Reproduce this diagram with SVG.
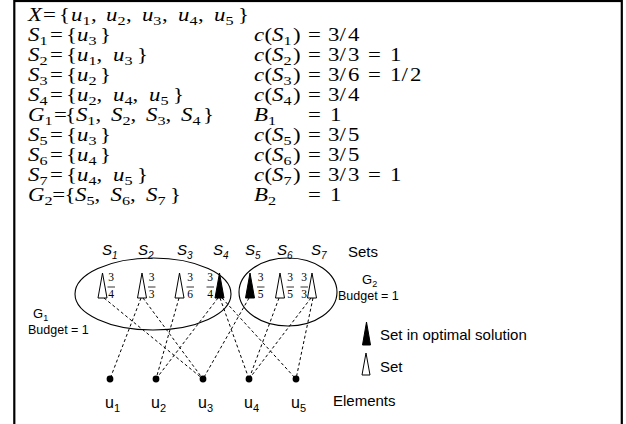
<svg xmlns="http://www.w3.org/2000/svg" width="626" height="424" viewBox="0 0 626 424">
<defs>
<style>
.m{font-family:"Liberation Serif","Times New Roman",serif;font-size:19px;fill:#000}
.i{font-style:italic}
.sb{font-size:13.5px}
.fr{font-family:"Liberation Serif","Times New Roman",serif;font-size:11.5px;fill:#000;text-anchor:middle}
.h{font-family:"Liberation Sans",Arial,sans-serif;fill:#000}
.conn line{stroke:#000;stroke-width:1;stroke-dasharray:3,2.5;fill:none}
.open{fill:#fff;stroke:#000;stroke-width:1}
.full{fill:#000;stroke:#000;stroke-width:1}
.grp{fill:none;stroke:#000;stroke-width:1.1}
.bar{stroke:#000;stroke-width:0.8}
</style>
</defs>
<rect x="0" y="0" width="626" height="424" fill="#fff"/>
<rect x="14.3" y="1" width="607.5" height="440" fill="none" stroke="#000" stroke-width="2.2"/>

<g id="formulas" transform="scale(1.2,1)">
<text class="m" y="21"><tspan x="23.33" class="i">X</tspan><tspan x="35.83">=</tspan><tspan x="49.17">{</tspan><tspan x="59.17" class="i">u</tspan><tspan class="sb" dy="4">1</tspan><tspan dx="0.5" dy="-4">,</tspan><tspan x="88.33" class="i">u</tspan><tspan class="sb" dy="4">2</tspan><tspan dx="0.5" dy="-4">,</tspan><tspan x="118.33" class="i">u</tspan><tspan class="sb" dy="4">3</tspan><tspan dx="0.5" dy="-4">,</tspan><tspan x="148.33" class="i">u</tspan><tspan class="sb" dy="4">4</tspan><tspan dx="0.5" dy="-4">,</tspan><tspan x="178.33" class="i">u</tspan><tspan class="sb" dy="4">5</tspan><tspan x="198.33" dy="-4">}</tspan></text>

<text class="m" y="41"><tspan x="23.33" class="i">S</tspan><tspan class="sb" dy="4">1</tspan><tspan x="41.67" dy="-4">=</tspan><tspan x="55">{</tspan><tspan x="64.17" class="i">u</tspan><tspan class="sb" dy="4">3</tspan><tspan x="83.33" dy="-4">}</tspan></text>
<text class="m" y="61"><tspan x="23.33" class="i">S</tspan><tspan class="sb" dy="4">2</tspan><tspan x="41.67" dy="-4">=</tspan><tspan x="55">{</tspan><tspan x="64.17" class="i">u</tspan><tspan class="sb" dy="4">1</tspan><tspan dy="-4">,</tspan><tspan x="94.17" class="i">u</tspan><tspan class="sb" dy="4">3</tspan><tspan x="114.17" dy="-4">}</tspan></text>
<text class="m" y="81"><tspan x="23.33" class="i">S</tspan><tspan class="sb" dy="4">3</tspan><tspan x="41.67" dy="-4">=</tspan><tspan x="55">{</tspan><tspan x="64.17" class="i">u</tspan><tspan class="sb" dy="4">2</tspan><tspan x="83.33" dy="-4">}</tspan></text>
<text class="m" y="101"><tspan x="23.33" class="i">S</tspan><tspan class="sb" dy="4">4</tspan><tspan x="41.67" dy="-4">=</tspan><tspan x="55">{</tspan><tspan x="64.17" class="i">u</tspan><tspan class="sb" dy="4">2</tspan><tspan dy="-4">,</tspan><tspan x="94.17" class="i">u</tspan><tspan class="sb" dy="4">4</tspan><tspan dy="-4">,</tspan><tspan x="124.17" class="i">u</tspan><tspan class="sb" dy="4">5</tspan><tspan x="144.17" dy="-4">}</tspan></text>
<text class="m" y="121"><tspan x="23.33" class="i">G</tspan><tspan class="sb" dy="4">1</tspan><tspan x="45" dy="-4">=</tspan><tspan x="54.17">{</tspan><tspan x="63.33" class="i">S</tspan><tspan class="sb" dy="4">1</tspan><tspan dy="-4">,</tspan><tspan x="92.5" class="i">S</tspan><tspan class="sb" dy="4">2</tspan><tspan dy="-4">,</tspan><tspan x="121.67" class="i">S</tspan><tspan class="sb" dy="4">3</tspan><tspan dy="-4">,</tspan><tspan x="150.83" class="i">S</tspan><tspan class="sb" dy="4">4</tspan><tspan x="169.17" dy="-4">}</tspan></text>
<text class="m" y="141"><tspan x="23.33" class="i">S</tspan><tspan class="sb" dy="4">5</tspan><tspan x="41.67" dy="-4">=</tspan><tspan x="55">{</tspan><tspan x="64.17" class="i">u</tspan><tspan class="sb" dy="4">3</tspan><tspan x="83.33" dy="-4">}</tspan></text>
<text class="m" y="161"><tspan x="23.33" class="i">S</tspan><tspan class="sb" dy="4">6</tspan><tspan x="41.67" dy="-4">=</tspan><tspan x="55">{</tspan><tspan x="64.17" class="i">u</tspan><tspan class="sb" dy="4">4</tspan><tspan x="83.33" dy="-4">}</tspan></text>
<text class="m" y="181"><tspan x="23.33" class="i">S</tspan><tspan class="sb" dy="4">7</tspan><tspan x="41.67" dy="-4">=</tspan><tspan x="55">{</tspan><tspan x="64.17" class="i">u</tspan><tspan class="sb" dy="4">4</tspan><tspan dy="-4">,</tspan><tspan x="94.17" class="i">u</tspan><tspan class="sb" dy="4">5</tspan><tspan x="114.17" dy="-4">}</tspan></text>
<text class="m" y="201"><tspan x="23.33" class="i">G</tspan><tspan class="sb" dy="4">2</tspan><tspan x="43.5" dy="-4">=</tspan><tspan x="53.75">{</tspan><tspan x="62.5" class="i">S</tspan><tspan class="sb" dy="4">5</tspan><tspan dy="-4">,</tspan><tspan x="92.08" class="i">S</tspan><tspan class="sb" dy="4">6</tspan><tspan dy="-4">,</tspan><tspan x="121.67" class="i">S</tspan><tspan class="sb" dy="4">7</tspan><tspan x="141.67" dy="-4">}</tspan></text>

<text class="m" y="41"><tspan x="211.67" class="i">c</tspan><tspan x="220.42">(</tspan><tspan x="226.67" class="i">S</tspan><tspan class="sb" dy="4">1</tspan><tspan x="244.17" dy="-4">)</tspan><tspan x="256.67">=</tspan><tspan x="273.33">3</tspan><tspan x="282.92">/</tspan><tspan x="290">4</tspan></text>
<text class="m" y="61"><tspan x="211.67" class="i">c</tspan><tspan x="220.42">(</tspan><tspan x="226.67" class="i">S</tspan><tspan class="sb" dy="4">2</tspan><tspan x="244.17" dy="-4">)</tspan><tspan x="256.67">=</tspan><tspan x="273.33">3</tspan><tspan x="282.92">/</tspan><tspan x="290">3</tspan><tspan x="306.67">=</tspan><tspan x="325">1</tspan></text>
<text class="m" y="81"><tspan x="211.67" class="i">c</tspan><tspan x="220.42">(</tspan><tspan x="226.67" class="i">S</tspan><tspan class="sb" dy="4">3</tspan><tspan x="244.17" dy="-4">)</tspan><tspan x="256.67">=</tspan><tspan x="273.33">3</tspan><tspan x="282.92">/</tspan><tspan x="290">6</tspan><tspan x="306.67">=</tspan><tspan x="325">1</tspan><tspan x="334.58">/</tspan><tspan x="341.67">2</tspan></text>
<text class="m" y="101"><tspan x="211.67" class="i">c</tspan><tspan x="220.42">(</tspan><tspan x="226.67" class="i">S</tspan><tspan class="sb" dy="4">4</tspan><tspan x="244.17" dy="-4">)</tspan><tspan x="256.67">=</tspan><tspan x="273.33">3</tspan><tspan x="282.92">/</tspan><tspan x="290">4</tspan></text>
<text class="m" y="121"><tspan x="211.67" class="i">B</tspan><tspan class="sb" dy="4">1</tspan><tspan x="256.67" dy="-4">=</tspan><tspan x="275">1</tspan></text>
<text class="m" y="141"><tspan x="211.67" class="i">c</tspan><tspan x="220.42">(</tspan><tspan x="226.67" class="i">S</tspan><tspan class="sb" dy="4">5</tspan><tspan x="244.17" dy="-4">)</tspan><tspan x="256.67">=</tspan><tspan x="273.33">3</tspan><tspan x="282.92">/</tspan><tspan x="290">5</tspan></text>
<text class="m" y="161"><tspan x="211.67" class="i">c</tspan><tspan x="220.42">(</tspan><tspan x="226.67" class="i">S</tspan><tspan class="sb" dy="4">6</tspan><tspan x="244.17" dy="-4">)</tspan><tspan x="256.67">=</tspan><tspan x="273.33">3</tspan><tspan x="282.92">/</tspan><tspan x="290">5</tspan></text>
<text class="m" y="181"><tspan x="211.67" class="i">c</tspan><tspan x="220.42">(</tspan><tspan x="226.67" class="i">S</tspan><tspan class="sb" dy="4">7</tspan><tspan x="244.17" dy="-4">)</tspan><tspan x="256.67">=</tspan><tspan x="273.33">3</tspan><tspan x="282.92">/</tspan><tspan x="290">3</tspan><tspan x="306.67">=</tspan><tspan x="325">1</tspan></text>
<text class="m" y="201"><tspan x="211.67" class="i">B</tspan><tspan class="sb" dy="4">2</tspan><tspan x="256.67" dy="-4">=</tspan><tspan x="275">1</tspan></text>
</g>

<g id="G1">
<ellipse class="grp" cx="153" cy="294" rx="78" ry="36"/>
<text class="h" x="33" y="318" font-size="13">G<tspan font-size="9" dy="3">1</tspan></text>
<text class="h" x="28" y="334" font-size="12.5">Budget = 1</text>
</g>
<g id="G2">
<ellipse class="grp" cx="288" cy="292" rx="49" ry="34"/>
<text class="h" x="362" y="284" font-size="13">G<tspan font-size="9" dy="3">2</tspan></text>
<text class="h" x="338" y="300" font-size="12.5">Budget = 1</text>
</g>

<g class="conn" id="connectors">
<line x1="104" y1="298" x2="203" y2="379"/>
<line x1="141" y1="298" x2="110" y2="379"/>
<line x1="143" y1="298" x2="203" y2="379"/>
<line x1="179" y1="298" x2="156" y2="379"/>
<line x1="218" y1="298" x2="156" y2="379"/>
<line x1="220" y1="298" x2="249" y2="379"/>
<line x1="222" y1="298" x2="296" y2="379"/>
<line x1="249" y1="298" x2="203" y2="379"/>
<line x1="279" y1="298" x2="249" y2="379"/>
<line x1="311" y1="298" x2="249" y2="379"/>
<line x1="313" y1="298" x2="296" y2="379"/>
</g>

<g id="S1">
<text class="h" x="102" y="255" font-size="15" font-style="italic">S<tspan font-size="10" dy="4">1</tspan></text>
<polygon class="open" points="102.5,273 98,298 107,298"/>
<text class="fr" x="111" y="281">3</text><line class="bar" x1="107.5" y1="287" x2="115" y2="287"/><text class="fr" x="111" y="298">4</text>
</g>
<g id="S2">
<text class="h" x="138" y="255" font-size="15" font-style="italic">S<tspan font-size="10" dy="4">2</tspan></text>
<polygon class="open" points="142,273 137.5,298 146.5,298"/>
<text class="fr" x="151.5" y="281">3</text><line class="bar" x1="148" y1="287" x2="155.5" y2="287"/><text class="fr" x="151.5" y="298">3</text>
</g>
<g id="S3">
<text class="h" x="177" y="255" font-size="15" font-style="italic">S<tspan font-size="10" dy="4">3</tspan></text>
<polygon class="open" points="179.5,273 175,298 184,298"/>
<text class="fr" x="190" y="281">3</text><line class="bar" x1="186.5" y1="287" x2="194" y2="287"/><text class="fr" x="190" y="298">6</text>
</g>
<g id="S4">
<text class="h" x="213" y="255" font-size="15" font-style="italic">S<tspan font-size="10" dy="4">4</tspan></text>
<polygon class="full" points="219.5,273 215,298 224,298"/>
<text class="fr" x="210" y="281">3</text><line class="bar" x1="206.5" y1="287" x2="214" y2="287"/><text class="fr" x="210" y="298">4</text>
</g>
<g id="S5">
<text class="h" x="245" y="255" font-size="15" font-style="italic">S<tspan font-size="10" dy="4">5</tspan></text>
<polygon class="full" points="250,273 245.5,298 254.5,298"/>
<text class="fr" x="260.5" y="281">3</text><line class="bar" x1="257" y1="287" x2="264.5" y2="287"/><text class="fr" x="260.5" y="298">5</text>
</g>
<g id="S6">
<text class="h" x="277" y="255" font-size="15" font-style="italic">S<tspan font-size="10" dy="4">6</tspan></text>
<polygon class="open" points="280,273 275.5,298 284.5,298"/>
<text class="fr" x="290" y="281">3</text><line class="bar" x1="286.5" y1="287" x2="294" y2="287"/><text class="fr" x="290" y="298">5</text>
</g>
<g id="S7">
<text class="h" x="311" y="255" font-size="15" font-style="italic">S<tspan font-size="10" dy="4">7</tspan></text>
<polygon class="open" points="312,273 307.5,298 316.5,298"/>
<text class="fr" x="304" y="281">3</text><line class="bar" x1="300.5" y1="287" x2="308" y2="287"/><text class="fr" x="304" y="298">3</text>
</g>
<text class="h" x="348" y="257" font-size="15">Sets</text>

<g id="u1"><circle cx="110" cy="379" r="3.4"/><text class="h" x="105" y="408" font-size="16">u<tspan font-size="11" dy="4">1</tspan></text></g>
<g id="u2"><circle cx="156" cy="379" r="3.4"/><text class="h" x="151" y="408" font-size="16">u<tspan font-size="11" dy="4">2</tspan></text></g>
<g id="u3"><circle cx="203" cy="379" r="3.4"/><text class="h" x="198" y="408" font-size="16">u<tspan font-size="11" dy="4">3</tspan></text></g>
<g id="u4"><circle cx="249" cy="379" r="3.4"/><text class="h" x="244" y="408" font-size="16">u<tspan font-size="11" dy="4">4</tspan></text></g>
<g id="u5"><circle cx="296" cy="379" r="3.4"/><text class="h" x="291" y="408" font-size="16">u<tspan font-size="11" dy="4">5</tspan></text></g>
<text class="h" x="333" y="406" font-size="15">Elements</text>

<g id="legend">
<polygon class="full" points="366.5,322 362.5,345 370.5,345"/>
<text class="h" x="380" y="340" font-size="15">Set in optimal solution</text>
<polygon class="open" points="366,353 362,375 370,375"/>
<text class="h" x="380" y="372" font-size="15">Set</text>
</g>
</svg>
